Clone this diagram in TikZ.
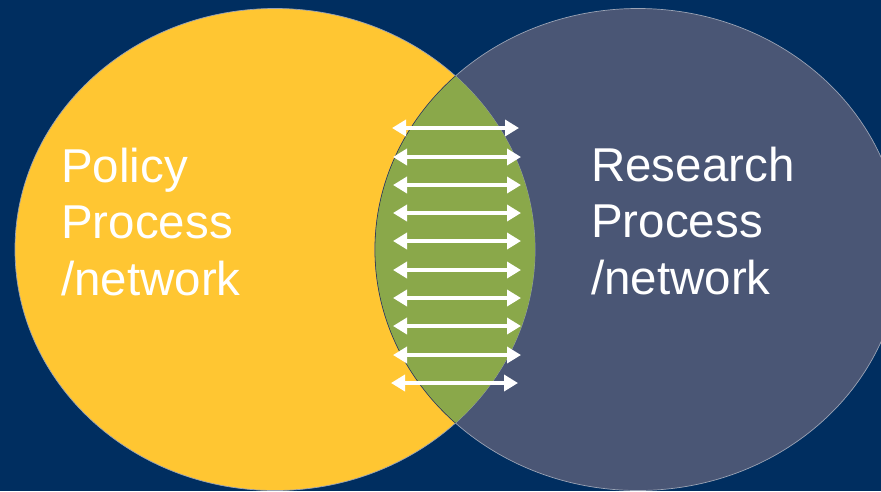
\documentclass[tikz,border=0pt]{standalone}
\usepackage{fontspec}
\setmainfont{Liberation Sans}
\usetikzlibrary{arrows.meta,shapes.geometric}
\definecolor{navybg}{HTML}{002E60}
\definecolor{policyyellow}{HTML}{FFC632}
\definecolor{researchslate}{HTML}{4A5675}
\definecolor{overlapgreen}{HTML}{8AA84A}
\definecolor{rimgray}{HTML}{9AA3B5}
\tikzset{
  lbl/.style={text=white, align=left, inner sep=0pt, anchor=base west,
    font=\fontsize{47.5}{56.5}\selectfont},
  linkarrow/.style={draw=white, line width=3.6pt,
    {Triangle[length=14pt,width=16pt]}-{Triangle[length=14pt,width=16pt]}},
  rim/.style={draw=rimgray, line width=0.7pt}
}
\begin{document}
\begin{tikzpicture}[x=1pt,y=-1pt]
  \fill[navybg] (0,0) rectangle (881,491);
  \useasboundingbox (0,0) rectangle (881,491);
  \begin{scope}
    \clip (0,0) rectangle (881,491);
    % policy circle
    \fill[policyyellow] (275,249.5) ellipse [x radius=260, y radius=241];
    % research circle
    \fill[researchslate] (638,249.5) ellipse [x radius=263, y radius=241];
    % rims
    \draw[rim] (275,249.5) ellipse [x radius=260, y radius=241];
    \draw[rim] (638,249.5) ellipse [x radius=263, y radius=241];
    % overlap
    \begin{scope}
      \clip (275,249.5) ellipse [x radius=260, y radius=241];
      \fill[overlapgreen] (638,249.5) ellipse [x radius=263, y radius=241];
      \draw[researchslate!70!black, line width=0.8pt] (638,249.5) ellipse [x radius=263, y radius=241];
    \end{scope}
    \begin{scope}
      \clip (638,249.5) ellipse [x radius=262.5, y radius=240.5];
      \fill[overlapgreen] (275,249.5) ellipse [x radius=259.6, y radius=240.6];
    \end{scope}
  \end{scope}

  % labels (base anchor = baseline of the last line)
  \node[lbl] (policy) at (61,295) {Policy\\Process\\/network};
  \node[lbl] (research) at (591,294) {Research\\Process\\/network};

  % arrows
  \foreach \i/\yy/\xl/\xr in {1/128/392/519, 2/157/393/521, 3/185/393/521,
      4/213/393/521, 5/241/393/521, 6/270/393/521, 7/298/393/521,
      8/326/393/521, 9/355/393/521, 10/383/391/518} {
    \coordinate (l\i) at (\xl,\yy);
    \coordinate (r\i) at (\xr,\yy);
    \draw[linkarrow] (l\i) -- (r\i);
  }
\end{tikzpicture}
\end{document}
